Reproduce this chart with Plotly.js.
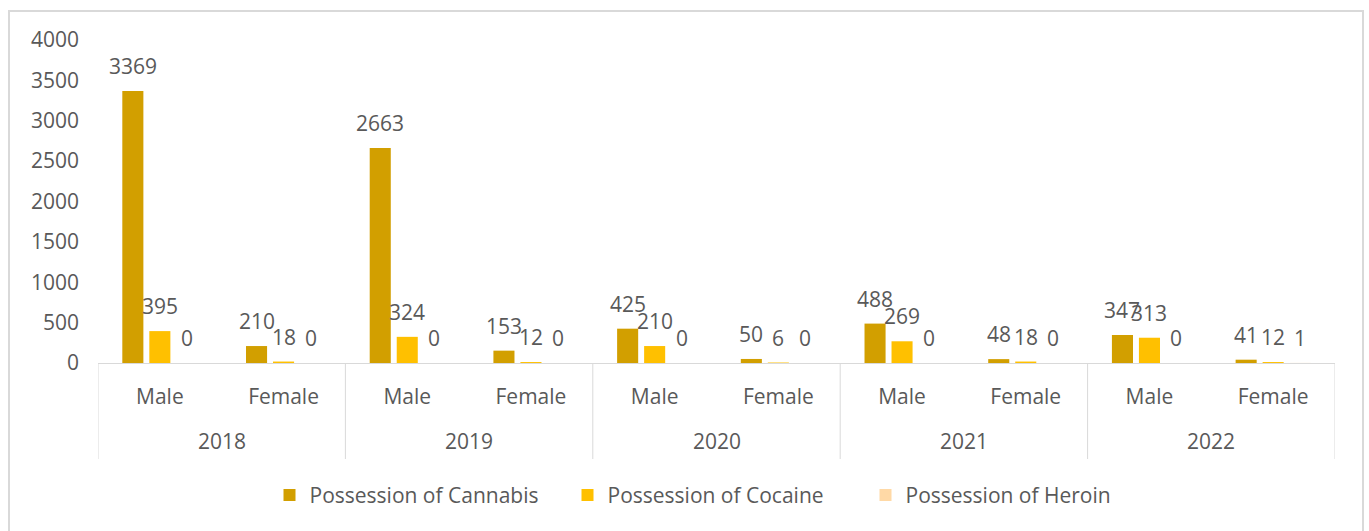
<!DOCTYPE html>
<html>
<head>
<meta charset="utf-8">
<script src="https://cdn.plot.ly/plotly-3.0.1.min.js"></script>
<style>
  html, body { margin: 0; padding: 0; background: #ffffff; }
  #chart { width: 1369px; height: 531px; }
</style>
</head>
<body>
<div id="chart"></div>
<script>
const years = ["2018", "2018", "2019", "2019", "2020", "2020", "2021", "2021", "2022", "2022"];
const genders = ["Male", "Female", "Male", "Female", "Male", "Female", "Male", "Female", "Male", "Female"];
const cannabis = [3369, 210, 2663, 153, 425, 50, 488, 48, 347, 41];
const cocaine = [395, 18, 324, 12, 210, 6, 269, 18, 313, 12];
const heroin = [0, 0, 0, 0, 0, 0, 0, 0, 0, 1];
const seriesNames = ["Possession of Cannabis", "Possession of Cocaine", "Possession of Heroin"];
const seriesColors = ["#D29F00", "#FFC000", "#FFD9A6"];

const FONT = "Open Sans, sans-serif";
const TXT = "#595959";
const LINE = "#D9D9D9";
const BARGAP = 0.345;
const BARGROUPGAP = 0.22;

// unique category keys (year + gender), shown as gender labels
const cats = years.map((y, i) => y + " " + genders[i]);
const seriesValues = [cannabis, cocaine, heroin];

const traces = seriesValues.map((vals, i) => ({
  type: "bar",
  name: seriesNames[i],
  x: cats,
  y: vals,
  marker: { color: seriesColors[i] },
  hoverinfo: "skip"
}));

// data labels above each bar (Excel style, lifted above bar top)
const slot = (1 - BARGAP) / seriesValues.length;
const annotations = [];
seriesValues.forEach((vals, j) => {
  const off = (j - (seriesValues.length - 1) / 2) * slot;
  vals.forEach((v, i) => {
    annotations.push({
      xref: "x", yref: "y",
      x: i + off, y: v,
      text: String(v),
      showarrow: false,
      yanchor: "middle",
      yshift: 25,
      font: { family: FONT, size: 21, color: TXT }
    });
  });
});

// year group labels and divider lines
const shapes = [];
const groupStarts = [];
years.forEach((y, i) => { if (i === 0 || y !== years[i - 1]) groupStarts.push(i); });
groupStarts.forEach((s, k) => {
  const e = (k + 1 < groupStarts.length ? groupStarts[k + 1] : years.length);
  annotations.push({
    xref: "x", yref: "paper",
    x: (s + e - 1) / 2, y: (363 - 441) / 323,
    text: years[s],
    showarrow: false,
    yanchor: "middle",
    font: { family: FONT, size: 21, color: TXT }
  });
  shapes.push({
    type: "line", xref: "x", yref: "paper",
    x0: s - 0.5, x1: s - 0.5, y0: 0, y1: (363 - 459) / 323,
    line: { color: LINE, width: 1 }
  });
});
shapes.push({
  type: "line", xref: "x", yref: "paper",
  x0: years.length - 0.5, x1: years.length - 0.5, y0: 0, y1: (363 - 459) / 323,
  line: { color: LINE, width: 1 }
});
// outer chart border
shapes.push({
  type: "rect",
  xref: "paper", yref: "paper",
  x0: (9 - 98) / 1237, x1: (1363 - 98) / 1237,
  y0: (363 - 540) / 323, y1: (363 - 11) / 323,
  line: { color: LINE, width: 2 },
  fillcolor: "rgba(0,0,0,0)",
  layer: "below"
});

const layout = {
  width: 1369,
  height: 531,
  margin: { l: 98, r: 34, t: 40, b: 168 },
  paper_bgcolor: "#ffffff",
  plot_bgcolor: "#ffffff",
  barmode: "group",
  bargap: BARGAP,
  bargroupgap: BARGROUPGAP,
  font: { family: FONT, size: 21, color: TXT },
  showlegend: true,
  legend: {
    orientation: "h",
    x: 0.5, xanchor: "center",
    y: -0.41, yanchor: "middle",
    font: { family: FONT, size: 21, color: TXT },
    itemwidth: 30,
    entrywidth: 253,
    entrywidthmode: "pixels",
    itemclick: false
  },
  xaxis: {
    type: "category",
    range: [-0.5, cats.length - 0.5],
    tickvals: cats,
    ticktext: genders,
    showline: true,
    linecolor: LINE,
    linewidth: 1,
    showgrid: false,
    zeroline: false,
    ticks: "",
    ticklabelstandoff: 15,
    tickfont: { family: FONT, size: 21, color: TXT }
  },
  yaxis: {
    range: [0, 4000],
    dtick: 500,
    showgrid: false,
    zeroline: false,
    showline: false,
    ticks: "",
    ticklabelstandoff: 18,
    tickfont: { family: FONT, size: 21, color: TXT }
  },
  annotations: annotations,
  shapes: shapes
};

Plotly.newPlot("chart", traces, layout, { displayModeBar: false, staticPlot: true });
</script>
</body>
</html>
